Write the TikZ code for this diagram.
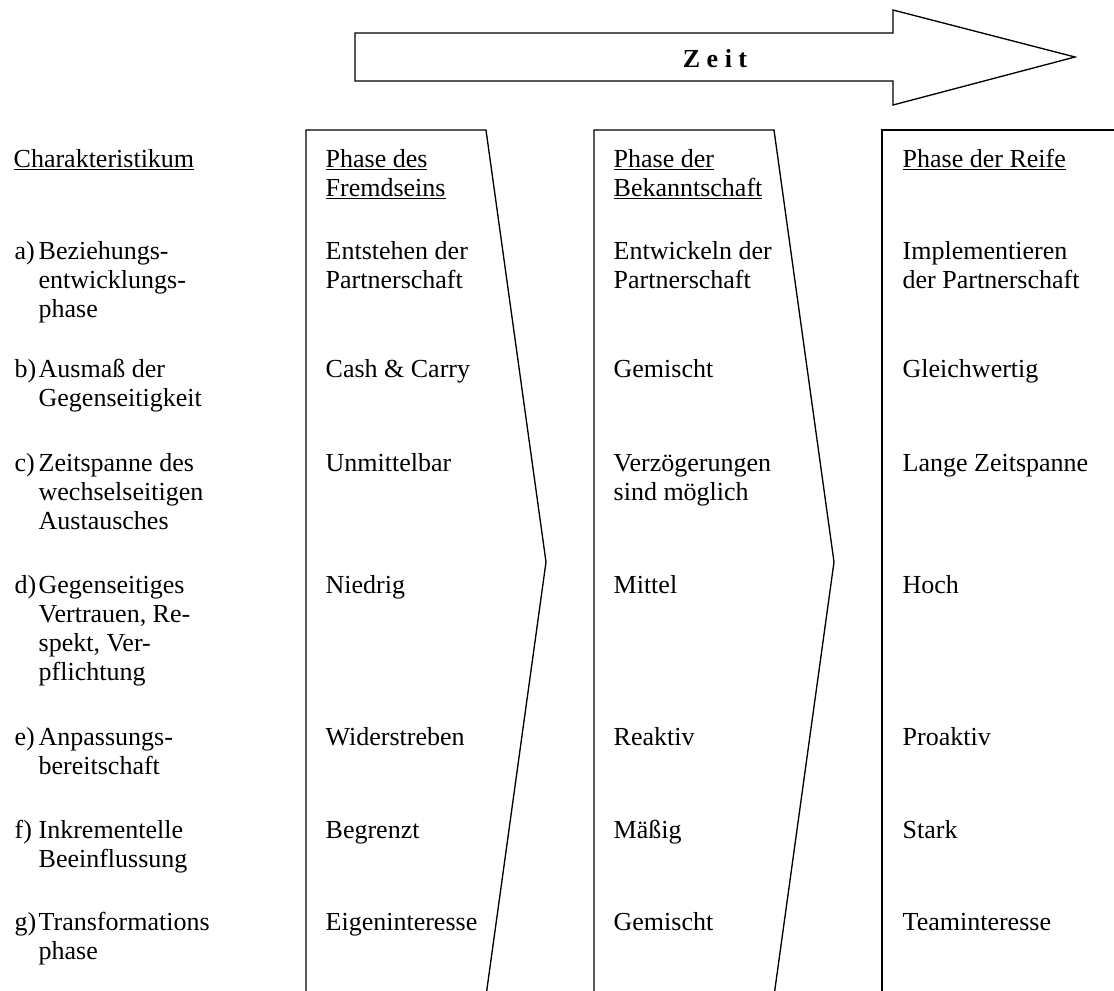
\documentclass[tikz,border=0pt]{standalone}
\usepackage{fontspec}
\setmainfont{Liberation Serif}
\newcommand{\cellfont}{\fontsize{19.5}{21.75}\selectfont}
\newcommand{\celltext}[1]{\begin{tabular}[t]{@{}l@{}}#1\end{tabular}}

\begin{document}
\begin{tikzpicture}[x=0.75pt, y=-0.75pt, line width=1pt,
    every node/.style={inner sep=0pt, font=\cellfont},
    cell/.style={anchor=base west}]

    \useasboundingbox (0,0) rectangle (1114,990);

    % Zeit arrow
    \draw (355,33) -- (893,33) -- (893,10) -- (1075,57) -- (893,105)
          -- (893,81) -- (355,81) -- cycle;
    \node[font=\cellfont\bfseries] (zeit) at (715,59) {Z e i t};

    % Phase boxes
    \draw (306,996) -- (306,130) -- (486,130) -- (546,562) -- (486,996);
    \draw (594,996) -- (594,130) -- (774,130) -- (834,562) -- (774,996);
    \draw (882,996) -- (882,130) -- (1120,130);

    % Headings
    \node[cell] (char) at (13,167) {\celltext{\underline{Charakteristikum}}};
    \node[cell] (fremd) at (325,167) {\celltext{\underline{Phase des}\\\underline{Fremdseins}}};
    \node[cell] (bekannt) at (613,167) {\celltext{\underline{Phase der}\\\underline{Bekanntschaft}}};
    \node[cell] (reife) at (902,167) {\celltext{\underline{Phase der Reife}}};

    % Characteristics
    \node[cell] (la) at (14,259) {a)};
    \node[cell] (a) at (38,259) {\celltext{Beziehungs-\\entwicklungs-\\phase}};
    \node[cell] (lb) at (14,377) {b)};
    \node[cell] (b) at (38,377) {\celltext{Ausmaß der\\Gegenseitigkeit}};
    \node[cell] (lc) at (14,471) {c)};
    \node[cell] (c) at (38,471) {\celltext{Zeitspanne des\\wechselseitigen\\Austausches}};
    \node[cell] (ld) at (14,593) {d)};
    \node[cell] (d) at (38,593) {\celltext{Gegenseitiges\\Vertrauen, Re-\\spekt, Ver-\\pflichtung}};
    \node[cell] (le) at (14,745) {e)};
    \node[cell] (e) at (38,745) {\celltext{Anpassungs-\\bereitschaft}};
    \node[cell] (lf) at (14,838) {f)};
    \node[cell] (f) at (38,838) {\celltext{Inkrementelle\\Beeinflussung}};
    \node[cell] (lg) at (14,930) {g)};
    \node[cell] (g) at (38,930) {\celltext{Transformations\\phase}};

    % Phase des Fremdseins
    \node[cell] (fa) at (325,259) {\celltext{Entstehen der\\Partnerschaft}};
    \node[cell] (fb) at (325,377) {Cash \& Carry};
    \node[cell] (fc) at (325,471) {Unmittelbar};
    \node[cell] (fd) at (325,593) {Niedrig};
    \node[cell] (fe) at (325,745) {Widerstreben};
    \node[cell] (ff) at (325,838) {Begrenzt};
    \node[cell] (fg) at (325,930) {Eigeninteresse};

    % Phase der Bekanntschaft
    \node[cell] (ba) at (613,259) {\celltext{Entwickeln der\\Partnerschaft}};
    \node[cell] (bb) at (613,377) {Gemischt};
    \node[cell] (bc) at (613,471) {\celltext{Verzögerungen\\sind möglich}};
    \node[cell] (bd) at (613,593) {Mittel};
    \node[cell] (be) at (613,745) {Reaktiv};
    \node[cell] (bf) at (613,838) {Mäßig};
    \node[cell] (bg) at (613,930) {Gemischt};

    % Phase der Reife
    \node[cell] (ra) at (902,259) {\celltext{Implementieren\\der Partnerschaft}};
    \node[cell] (rb) at (902,377) {Gleichwertig};
    \node[cell] (rc) at (902,471) {Lange Zeitspanne};
    \node[cell] (rd) at (902,593) {Hoch};
    \node[cell] (re) at (902,745) {Proaktiv};
    \node[cell] (rf) at (902,838) {Stark};
    \node[cell] (rg) at (902,930) {Teaminteresse};

\end{tikzpicture}
\end{document}
